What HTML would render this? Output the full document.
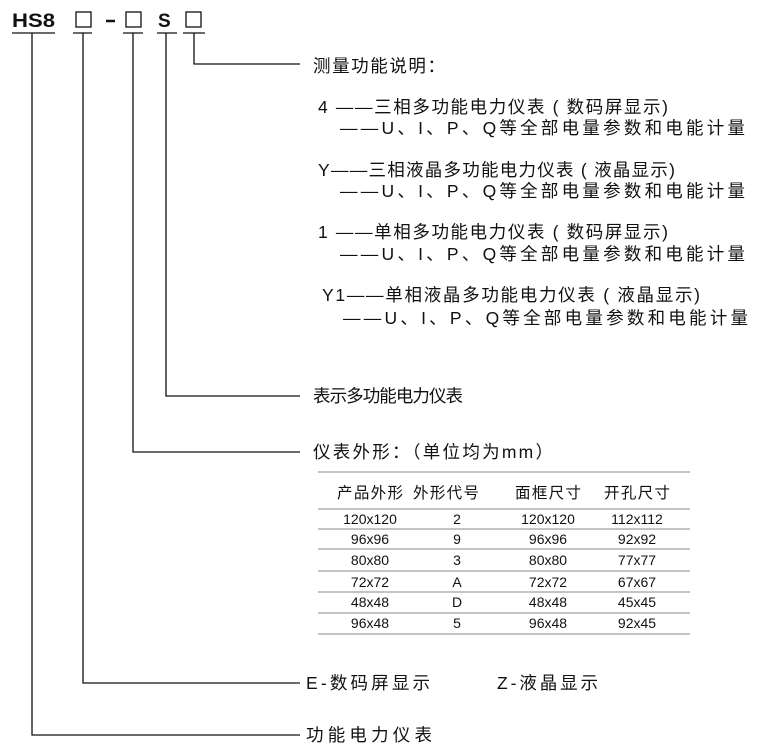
<!DOCTYPE html>
<html><head><meta charset="utf-8"><style>
html,body{margin:0;padding:0;background:#fff;width:765px;height:753px;overflow:hidden}
svg text{font-family:"Liberation Sans","Noto Sans CJK SC",sans-serif;fill:#111}
</style></head><body>
<svg width="765" height="753" viewBox="0 0 765 753" xmlns="http://www.w3.org/2000/svg">
<g stroke="#111" stroke-width="1.3" fill="none">
<line x1="12" y1="33" x2="55" y2="33"/>
<line x1="73" y1="33" x2="92" y2="33"/>
<line x1="123" y1="33" x2="143" y2="33"/>
<line x1="157" y1="33" x2="177" y2="33"/>
<line x1="183" y1="33" x2="205" y2="33"/>
<rect x="76" y="12" width="15" height="15"/>
<rect x="126" y="12" width="15" height="15"/>
<rect x="186" y="12" width="15" height="15"/>
<polyline points="32,33 32,735 300,735"/>
<polyline points="83,33 83,683 300,683"/>
<polyline points="133,33 133,452 300,452"/>
<polyline points="166,33 166,396 300,396"/>
<polyline points="194,33 194,64 300,64"/>
</g>
<line x1="106" y1="21" x2="115" y2="21" stroke="#111" stroke-width="2.5"/>
<text x="12" y="27" font-size="19" font-weight="bold" textLength="43" lengthAdjust="spacingAndGlyphs">HS8</text>
<text x="158" y="27" font-size="19" font-weight="bold">S</text>

<g font-size="17.5">
<text x="313" y="72" textLength="132" lengthAdjust="spacing">测量功能说明：</text>
<text x="318" y="113" textLength="350" lengthAdjust="spacing">4 ——三相多功能电力仪表 ( 数码屏显示)</text>
<text x="340" y="134" textLength="405" lengthAdjust="spacing">——U、I、P、Q等全部电量参数和电能计量</text>
<text x="318" y="176" textLength="357" lengthAdjust="spacing">Y——三相液晶多功能电力仪表 ( 液晶显示)</text>
<text x="340" y="197" textLength="405" lengthAdjust="spacing">——U、I、P、Q等全部电量参数和电能计量</text>
<text x="318" y="238" textLength="350" lengthAdjust="spacing">1 ——单相多功能电力仪表 ( 数码屏显示)</text>
<text x="340" y="260" textLength="405" lengthAdjust="spacing">——U、I、P、Q等全部电量参数和电能计量</text>
<text x="322" y="301" textLength="378" lengthAdjust="spacing">Y1——单相液晶多功能电力仪表 ( 液晶显示)</text>
<text x="343" y="324" textLength="405" lengthAdjust="spacing">——U、I、P、Q等全部电量参数和电能计量</text>
<text x="313" y="402" textLength="150" lengthAdjust="spacing">表示多功能电力仪表</text>
<text x="313" y="458" textLength="240" lengthAdjust="spacing">仪表外形：（单位均为mm）</text>
<text x="306" y="689" textLength="124" lengthAdjust="spacing">E-数码屏显示</text>
<text x="497" y="689" textLength="101" lengthAdjust="spacing">Z-液晶显示</text>
<text x="306" y="741" textLength="126" lengthAdjust="spacing">功能电力仪表</text>
</g>

<g stroke="#888" stroke-width="1">
<line x1="318" y1="472" x2="690" y2="472"/>
<line x1="318" y1="509" x2="690" y2="509"/>
<line x1="318" y1="529" x2="690" y2="529"/>
<line x1="318" y1="549" x2="690" y2="549"/>
<line x1="318" y1="571" x2="690" y2="571"/>
<line x1="318" y1="592" x2="690" y2="592"/>
<line x1="318" y1="613" x2="690" y2="613"/>
<line x1="318" y1="634" x2="690" y2="634"/>
</g>
<g font-size="15.5" text-anchor="middle">
<text x="370" y="498" textLength="66" lengthAdjust="spacing">产品外形</text><text x="446" y="498" textLength="66" lengthAdjust="spacing">外形代号</text><text x="548" y="498" textLength="66" lengthAdjust="spacing">面框尺寸</text><text x="637" y="498" textLength="66" lengthAdjust="spacing">开孔尺寸</text>
</g>
<g font-size="14" text-anchor="middle">
<text x="370" y="524">120x120</text><text x="457" y="524">2</text><text x="548" y="524">120x120</text><text x="637" y="524">112x112</text>
<text x="370" y="544">96x96</text><text x="457" y="544">9</text><text x="548" y="544">96x96</text><text x="637" y="544">92x92</text>
<text x="370" y="565">80x80</text><text x="457" y="565">3</text><text x="548" y="565">80x80</text><text x="637" y="565">77x77</text>
<text x="370" y="587">72x72</text><text x="457" y="587">A</text><text x="548" y="587">72x72</text><text x="637" y="587">67x67</text>
<text x="370" y="607">48x48</text><text x="457" y="607">D</text><text x="548" y="607">48x48</text><text x="637" y="607">45x45</text>
<text x="370" y="628">96x48</text><text x="457" y="628">5</text><text x="548" y="628">96x48</text><text x="637" y="628">92x45</text>
</g>
</svg>
</body></html>
